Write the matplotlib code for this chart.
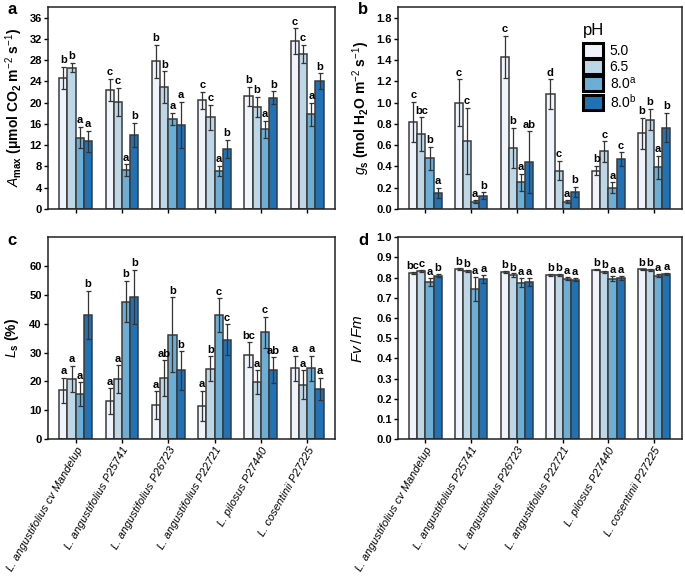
import numpy as np
import matplotlib
matplotlib.use("Agg")
import matplotlib.pyplot as plt
from matplotlib.patches import Patch

plt.rcParams["font.family"] = ["Liberation Sans", "DejaVu Sans"]
plt.rcParams["mathtext.fontset"] = "custom"
plt.rcParams["mathtext.rm"] = "Liberation Sans"
plt.rcParams["mathtext.it"] = "Liberation Sans:italic"
plt.rcParams["mathtext.bf"] = "Liberation Sans:bold"

# genotipos y tratamientos de pH
genotipos = ["L. angustifolius cv Mandelup", "L. angustifolius P25741",
             "L. angustifolius P26723", "L. angustifolius P22721",
             "L. pilosus P27440", "L. cosentinii P27225"]
ph_labels = ["5.0", "6.5", "8.0$^{\\mathrm{a}}$", "8.0$^{\\mathrm{b}}$"]
colores = ["#eef3fc", "#bdd7e7", "#6baed6", "#2171b5"]

# A max (filas = genotipo, columnas = pH)
amax = [[24.6, 26.6, 13.4, 12.7],
        [22.4, 20.1, 7.3, 13.9],
        [27.8, 22.9, 16.9, 15.8],
        [20.4, 17.2, 7.1, 11.3],
        [21.2, 19.2, 15.0, 20.9],
        [31.6, 29.2, 17.8, 24.0]]
amax_err = [[2.1, 0.9, 2.0, 2.0],
            [2.1, 2.7, 1.1, 2.3],
            [3.1, 3.0, 1.2, 4.3],
            [1.6, 2.4, 1.0, 1.7],
            [1.8, 1.9, 1.6, 1.2],
            [2.4, 1.7, 2.2, 1.5]]
amax_let = [["b", "b", "a", "a"], ["c", "c", "a", "b"], ["b", "b", "a", "a"],
            ["c", "c", "a", "b"], ["b", "b", "a", "b"], ["c", "c", "a", "b"]]

# g s
gs = [[0.82, 0.70, 0.475, 0.15],
      [1.00, 0.64, 0.067, 0.125],
      [1.43, 0.575, 0.25, 0.44],
      [1.08, 0.36, 0.067, 0.16],
      [0.36, 0.54, 0.20, 0.47],
      [0.71, 0.84, 0.39, 0.765]]
gs_err = [[0.19, 0.16, 0.11, 0.05],
          [0.22, 0.31, 0.012, 0.03],
          [0.20, 0.19, 0.08, 0.29],
          [0.14, 0.09, 0.012, 0.045],
          [0.045, 0.095, 0.05, 0.063],
          [0.145, 0.10, 0.11, 0.14]]
gs_let = [["c", "bc", "b", "a"], ["c", "c", "a", "b"], ["c", "b", "a", "ab"],
          ["d", "c", "a", "b"], ["b", "c", "a", "c"], ["b", "b", "a", "b"]]

# L s
ls = [[16.9, 20.9, 15.6, 43.1],
      [13.2, 20.9, 47.7, 49.3],
      [11.7, 21.1, 36.1, 23.8],
      [11.4, 24.4, 43.1, 34.5],
      [29.3, 19.8, 37.0, 24.0],
      [24.6, 18.9, 24.5, 17.4]]
ls_err = [[4.3, 4.5, 4.2, 8.3],
          [4.5, 4.8, 7.2, 9.4],
          [4.9, 6.3, 13.0, 6.7],
          [5.3, 4.3, 5.8, 5.4],
          [4.3, 4.0, 5.4, 4.4],
          [4.3, 4.9, 4.4, 3.9]]
ls_let = [["a", "a", "a", "b"], ["a", "a", "b", "b"], ["a", "ab", "b", "b"],
          ["a", "b", "c", "c"], ["bc", "a", "c", "ab"], ["a", "a", "a", "a"]]

# Fv/Fm
fvfm = [[0.824, 0.834, 0.778, 0.810],
        [0.843, 0.834, 0.745, 0.794],
        [0.827, 0.811, 0.775, 0.778],
        [0.814, 0.814, 0.794, 0.789],
        [0.840, 0.830, 0.795, 0.798],
        [0.841, 0.837, 0.810, 0.818]]
fvfm_err = [[0.006, 0.005, 0.02, 0.008],
            [0.004, 0.006, 0.06, 0.02],
            [0.006, 0.01, 0.022, 0.02],
            [0.005, 0.005, 0.008, 0.008],
            [0.004, 0.005, 0.013, 0.012],
            [0.004, 0.005, 0.007, 0.005]]
fvfm_let = [["bc", "c", "a", "b"], ["b", "b", "a", "a"], ["b", "b", "a", "a"],
            ["b", "b", "a", "a"], ["b", "b", "a", "a"], ["b", "b", "a", "a"]]


def barras(ax, vals, errs, letras, ymax, yticks, fmt, offset):
    vals = np.array(vals)
    errs = np.array(errs)
    x = np.arange(len(genotipos))
    w = 0.178
    for j in range(4):
        pos = x + (j - 1.5) * w
        ax.bar(pos, vals[:, j], w, color=colores[j], edgecolor="#3a3a3a",
               linewidth=1.1, zorder=2)
        ax.errorbar(pos, vals[:, j], yerr=errs[:, j], fmt="none",
                    ecolor="#333333", elinewidth=0.9, capsize=1.8,
                    capthick=0.9, zorder=3)
        for i in range(len(x)):
            ax.text(pos[i], vals[i, j] + errs[i, j] + offset, letras[i][j],
                    ha="center", va="bottom", fontsize=8, fontweight="bold")
    ax.set_xlim(-0.6, 5.6)
    ax.set_ylim(0, ymax)
    ax.set_yticks(yticks)
    ax.set_yticklabels([fmt.format(t) for t in yticks])
    ax.set_xticks(x)
    ax.tick_params(axis="both", direction="out", length=3, width=1,
                   labelsize=8, pad=1.5)
    for lab in ax.get_yticklabels():
        lab.set_fontweight("bold")
    for s in ax.spines.values():
        s.set_linewidth(1.1)
        s.set_color("#222222")
    return x


fig = plt.figure(figsize=(6.85, 5.8), dpi=100)
ax_a = fig.add_axes([0.070, 0.640, 0.419, 0.348])
ax_b = fig.add_axes([0.581, 0.640, 0.414, 0.348])
ax_c = fig.add_axes([0.070, 0.243, 0.419, 0.348])
ax_d = fig.add_axes([0.581, 0.243, 0.414, 0.348])

barras(ax_a, amax, amax_err, amax_let, 38, np.arange(0, 37, 4), "{:.0f}", 0.3)
barras(ax_b, gs, gs_err, gs_let, 1.9, np.arange(0, 1.81, 0.2), "{:.1f}", 0.015)
barras(ax_c, ls, ls_err, ls_let, 70, np.arange(0, 61, 10), "{:.0f}", 0.5)
barras(ax_d, fvfm, fvfm_err, fvfm_let, 1.0, np.arange(0, 1.01, 0.1), "{:.1f}", 0.004)

ax_a.set_xticklabels([])
ax_b.set_xticklabels([])
for ax in (ax_c, ax_d):
    ax.set_xticklabels(genotipos, rotation=60, ha="right",
                       rotation_mode="anchor", fontstyle="italic", fontsize=8)

ax_a.set_ylabel(r"$\mathit{A}_{\mathbf{max}}$ ($\mathbf{\mu}$mol CO$_{\mathbf{2}}$ m$^{-2}$ s$^{-1}$)",
                fontsize=10, fontweight="bold", labelpad=3)
ax_b.set_ylabel(r"$\mathit{g}_{\mathbf{s}}$ (mol H$_{\mathbf{2}}$O m$^{-2}$ s$^{-1}$)",
                fontsize=10, fontweight="bold", labelpad=3)
ax_c.set_ylabel(r"$\mathit{L}_{\mathbf{s}}$ (%)", fontsize=10, fontweight="bold",
                labelpad=6)
ax_d.set_ylabel(r"$\mathit{Fv}\,/\,\mathit{Fm}$", fontsize=11, labelpad=8)

for ax, letra in zip((ax_a, ax_b, ax_c, ax_d), "abcd"):
    ax.text(-0.14, 0.985, letra, transform=ax.transAxes, fontsize=12,
            fontweight="bold", ha="left", va="center")

# leyenda con titulo aparte para que no se monte sobre las cajas
handles = [Patch(facecolor=c, edgecolor="black", linewidth=2.2) for c in colores]
ax_b.legend(handles, ph_labels, loc="upper left",
            bbox_to_anchor=(0.648, 0.83), frameon=False, fontsize=10,
            handlelength=1.45, handleheight=1.3, labelspacing=0.08,
            handletextpad=0.45, borderpad=0.1, borderaxespad=0)
ax_b.text(0.69, 0.885, "pH", transform=ax_b.transAxes, fontsize=12,
          ha="center", va="center")

fig.savefig("out.png", dpi=100)
